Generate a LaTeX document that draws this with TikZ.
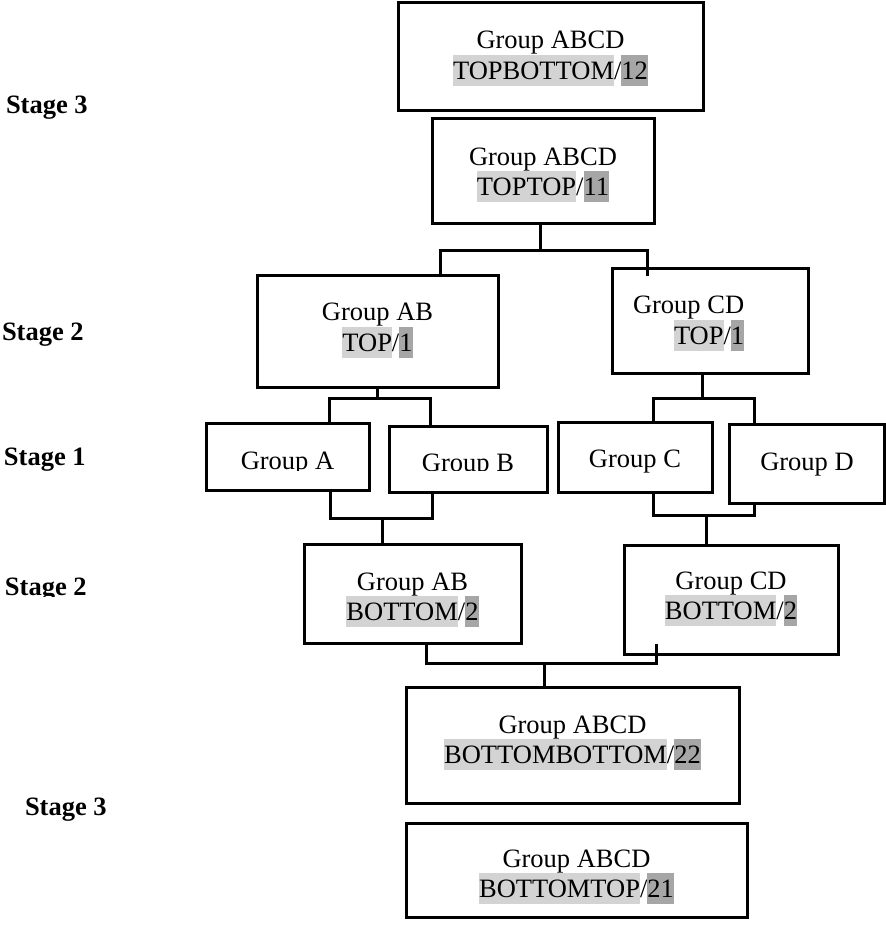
\documentclass[tikz,border=0pt]{standalone}
\usepackage{fontspec}
\setmainfont{Liberation Serif}
\usetikzlibrary{calc}
\definecolor{hlight}{RGB}{211,211,211}
\definecolor{hdark}{RGB}{166,166,166}
\newcommand\hlL[1]{{\setlength\fboxsep{0pt}\colorbox{hlight}{\rule[-6.5pt]{0pt}{31pt}#1}}}
\newcommand\hlD[1]{{\setlength\fboxsep{0pt}\colorbox{hdark}{\rule[-6.5pt]{0pt}{31pt}#1}}}
\tikzset{
  box/.style={draw, line width=3pt, rectangle, inner sep=0pt, outer sep=0pt},
  txt/.style={inner sep=0pt, outer sep=0pt, anchor=base, font=\fontsize{26.5}{30}\selectfont},
  txtw/.style={txt, anchor=base west},
  stagelbl/.style={inner sep=0pt, outer sep=0pt, anchor=base west, font=\fontsize{26.5}{30}\selectfont\bfseries},
  conn/.style={draw, line width=3pt}
}
\begin{document}
\begin{tikzpicture}[x=1pt,y=-1pt]
\useasboundingbox (0,0) rectangle (886,927);

% boxes
\node[box, minimum width=305pt, minimum height=108pt] (b1)  at (550.5,56) {};
\node[box, minimum width=222pt, minimum height=105pt] (b2)  at (543,170.5) {};
\node[box, minimum width=241pt, minimum height=112pt] (abt) at (377.5,331) {};
\node[box, minimum width=196pt, minimum height=105pt] (cdt) at (710,320.5) {};
\node[box, minimum width=163pt, minimum height=67pt]  (ga)  at (287.5,456.5) {};
\node[box, minimum width=158pt, minimum height=66pt]  (gb)  at (468,459) {};
\node[box, minimum width=154pt, minimum height=70pt]  (gc)  at (635,457) {};
\node[box, minimum width=155pt, minimum height=79pt]  (gd)  at (806.5,463.5) {};
\node[box, minimum width=217pt, minimum height=99pt]  (abb) at (412.5,593.5) {};
\node[box, minimum width=214pt, minimum height=109pt] (cdb) at (731,599.5) {};
\node[box, minimum width=333pt, minimum height=116pt] (bb)  at (572.5,745) {};
\node[box, minimum width=341pt, minimum height=94pt]  (bt)  at (576.5,870) {};

% texts
\node[txt] (b1a) at (550.5,48) {Group ABCD};
\node[txt] (b1b) at (550.5,79) {\hlL{TOPBOTTOM}/\hlD{12}};
\node[txt] (b2a) at (543,165) {Group ABCD};
\node[txt] (b2b) at (543,195) {\hlL{TOPTOP}/\hlD{11}};
\node[txt] (abta) at (377.5,320) {Group AB};
\node[txt] (abtb) at (377.5,351) {\hlL{TOP}/\hlD{1}};
\node[txtw] (cdta) at (633,313) {Group CD};
\node[txtw] (cdtb) at (674,344) {\hlL{TOP}/\hlD{1}};
\begin{scope}
  \clip (150,400) rectangle (560,470);
  \node[txt] (gat) at (287.5,469) {Group A};
  \node[txt] (gbt) at (468,471) {Group B};
\end{scope}
\node[txt] (gct) at (635,467) {Group C};
\node[txt] (gdt) at (807,470) {Group D};
\node[txt] (abba) at (412.5,590) {Group AB};
\node[txt] (abbb) at (412.5,620) {\hlL{BOTTOM}/\hlD{2}};
\node[txt] (cdba) at (731,589) {Group CD};
\node[txt] (cdbb) at (731,619) {\hlL{BOTTOM}/\hlD{2}};
\node[txt] (bba) at (572.5,733) {Group ABCD};
\node[txt] (bbb) at (572.5,763) {\hlL{BOTTOMBOTTOM}/\hlD{22}};
\node[txt] (bta) at (576.5,867) {Group ABCD};
\node[txt] (btb) at (576.5,897) {\hlL{BOTTOMTOP}/\hlD{21}};

% stage labels
\node[stagelbl] (s3a) at (6,113) {Stage 3};
\node[stagelbl] (s2a) at (2,340) {Stage 2};
\node[stagelbl] (s1)  at (4,465) {Stage 1};
\begin{scope}
  \clip (0,560) rectangle (200,596);
  \node[stagelbl] (s2b) at (5,595) {Stage 2};
\end{scope}
\node[stagelbl] (s3b) at (25,815) {Stage 3};

% connector junctions
\coordinate (j1)  at (540,250);
\coordinate (j1l) at (440,250);
\coordinate (j1r) at (647,250);
\coordinate (j1e) at (647,276);
\coordinate (j2)  at (377.5,398);
\coordinate (j2l) at (329,398);
\coordinate (j2r) at (430,398);
\coordinate (j3)  at (702,398);
\coordinate (j3l) at (653,398);
\coordinate (j3r) at (754,398);
\coordinate (j4)  at (382,518);
\coordinate (j4l) at (330,518);
\coordinate (j4r) at (432,518);
\coordinate (j5)  at (706,515);
\coordinate (j5l) at (653,515);
\coordinate (j5r) at (754,515);
\coordinate (j6)  at (544,663);
\coordinate (j6l) at (426,663);
\coordinate (j6r) at (656,663);
\coordinate (j6e) at (656,644);

% connectors
\draw[conn] (b2.south -| j1) -- (j1);
\draw[conn] (abt.north -| j1l) -- (j1l) -- (j1r) -- (j1e);

\draw[conn] (abt.south) -- (j2);
\draw[conn] (ga.north -| j2l) -- (j2l) -- (j2r) -- (gb.north -| j2r);

\draw[conn] (cdt.south -| j3) -- (j3);
\draw[conn] (gc.north -| j3l) -- (j3l) -- (j3r) -- (gd.north -| j3r);

\draw[conn] (ga.south -| j4l) -- (j4l) -- (j4r) -- (gb.south -| j4r);
\draw[conn] (j4) -- (abb.north -| j4);

\draw[conn] (gc.south -| j5l) -- (j5l) -- (j5r) -- (gd.south -| j5r);
\draw[conn] (j5) -- (cdb.north -| j5);

\draw[conn] (abb.south -| j6l) -- (j6l) -- (j6r) -- (j6e);
\draw[conn] (j6) -- (bb.north -| j6);
\end{tikzpicture}
\end{document}
